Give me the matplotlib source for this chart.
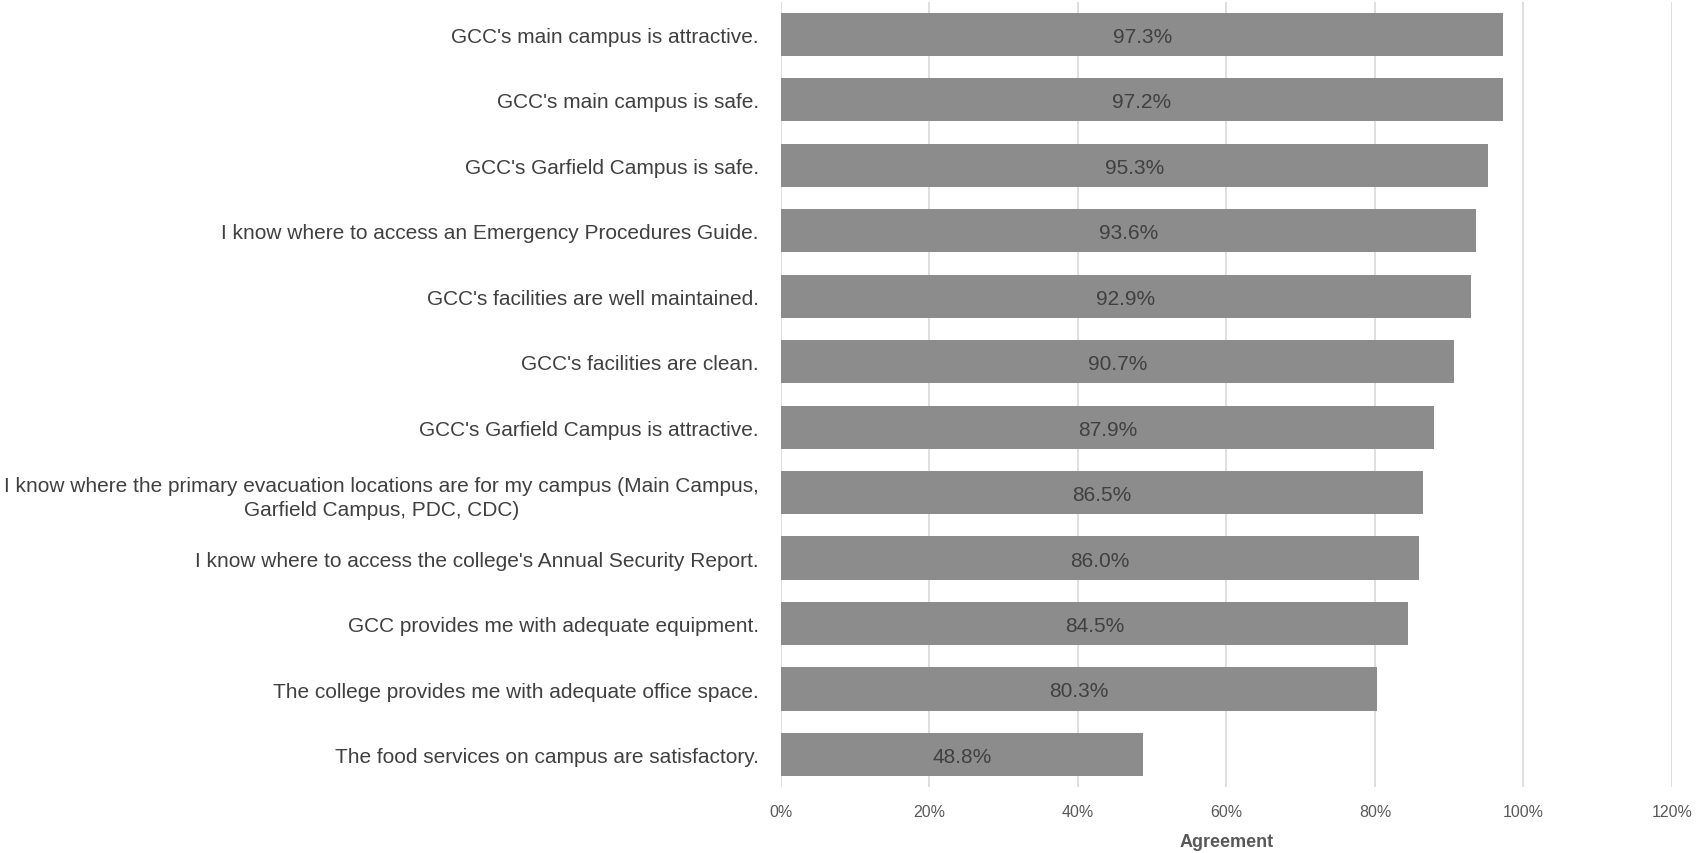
import matplotlib
matplotlib.use("Agg")
import matplotlib.pyplot as plt
from matplotlib.ticker import FuncFormatter

# survey items, top to bottom as drawn
items = [
    "GCC's main campus is attractive.",
    "GCC's main campus is safe.",
    "GCC's Garfield Campus is safe.",
    "I know where to access an Emergency Procedures Guide.",
    "GCC's facilities are well maintained.",
    "GCC's facilities are clean.",
    "GCC's Garfield Campus is attractive.",
    "I know where the primary evacuation locations are for my campus (Main Campus,\nGarfield Campus, PDC, CDC)",
    "I know where to access the college's Annual Security Report.",
    "GCC provides me with adequate equipment.",
    "The college provides me with adequate office space.",
    "The food services on campus are satisfactory.",
]
agree = [97.3, 97.2, 95.3, 93.6, 92.9, 90.7, 87.9, 86.5, 86.0, 84.5, 80.3, 48.8]
xticks = [0, 20, 40, 60, 80, 100, 120]

FONT = ["Liberation Sans", "DejaVu Sans"]
plt.rcParams["font.family"] = FONT
TXT = "#404040"
BAR = "#8c8c8c"
GRID = "#d9d9d9"

fig = plt.figure(figsize=(16.99, 8.54), dpi=100)
ax = fig.add_axes([0.4597, 0.077, 0.5243, 0.92])

ypos = list(range(len(items)))
ax.barh(ypos, agree, height=0.66, color=BAR, zorder=2)
for y, v in zip(ypos, agree):
    ax.text(v / 2, y + 0.03, f"{v:.1f}%", ha="center", va="center",
            fontsize=15, color=TXT, zorder=3)

ax.set_ylim(len(items) - 0.5, -0.5)
ax.set_yticks(ypos)
ax.set_yticklabels(items, fontsize=15, color=TXT, multialignment="center",
                   linespacing=1.35)
ax.set_xlim(0, 120)
ax.set_xticks(xticks)
ax.xaxis.set_major_formatter(FuncFormatter(lambda v, _: f"{v:.0f}%"))
ax.tick_params(axis="x", length=0, labelsize=11.5, labelcolor="#595959", pad=12)
ax.tick_params(axis="y", length=0, pad=16)
ax.grid(axis="x", color=GRID, linewidth=1.2, zorder=0)
for s in ax.spines.values():
    s.set_visible(False)
ax.set_xlabel("Agreement", fontsize=13, color="#595959", fontweight="bold",
              labelpad=10)

fig.savefig("out.png", dpi=100)
